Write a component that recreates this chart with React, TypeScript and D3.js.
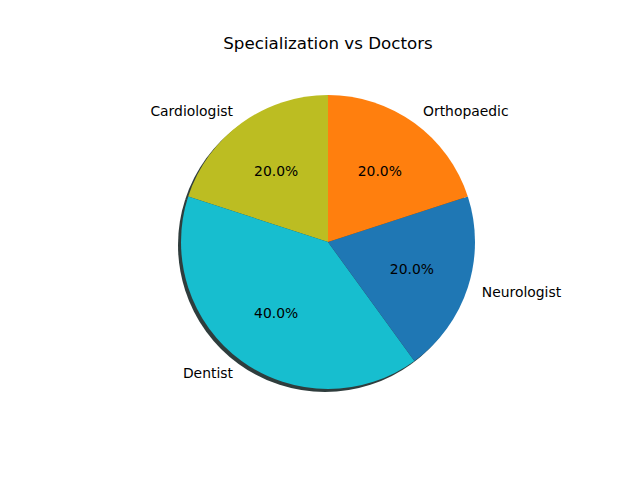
import React, { useEffect, useRef } from 'react';
import * as d3 from 'd3';

const specializations = ['Cardiologist', 'Dentist', 'Neurologist', 'Orthopaedic'];
const doctors = [1, 2, 1, 1];
const sliceColors = ['#bcbd22', '#17becf', '#1f77b4', '#ff7f0e'];

function App() {
  const svgRef = useRef<SVGSVGElement>(null);

  useEffect(() => {
    const width = 640;
    const height = 480;
    const cx = 328;
    const cy = 242;
    const radius = 147;

    const svg = d3.select(svgRef.current).attr('width', width).attr('height', height);
    svg.selectAll('*').remove();

    const data = specializations.map((name, i) => ({ name, value: doctors[i], color: sliceColors[i] }));
    const total = d3.sum(doctors);

    // matplotlib: startangle 90, counter-clockwise -> d3 angles run clockwise from 12 o'clock
    const pie = d3
      .pie<{ name: string; value: number; color: string }>()
      .value((d) => d.value)
      .sort(null)
      .startAngle(0)
      .endAngle(-2 * Math.PI);

    const arcs = pie(data);
    const arcGen = d3.arc<d3.PieArcDatum<any>>().innerRadius(0).outerRadius(radius);

    // shadow
    svg
      .append('g')
      .attr('transform', `translate(${cx - 3},${cy + 3})`)
      .selectAll('path')
      .data(arcs)
      .enter()
      .append('path')
      .attr('d', arcGen)
      .attr('fill', '#2f3d3d');

    const g = svg.append('g').attr('transform', `translate(${cx},${cy})`);

    g.selectAll('path.slice')
      .data(arcs)
      .enter()
      .append('path')
      .attr('class', 'slice')
      .attr('d', arcGen)
      .attr('fill', (d) => d.data.color);

    const mid = (d: d3.PieArcDatum<any>) => (d.startAngle + d.endAngle) / 2;

    // category labels at 1.1 r
    g.selectAll('text.label')
      .data(arcs)
      .enter()
      .append('text')
      .attr('class', 'label')
      .attr('x', (d) => Math.sin(mid(d)) * radius * 1.1)
      .attr('y', (d) => -Math.cos(mid(d)) * radius * 1.1)
      .attr('text-anchor', (d) => (Math.sin(mid(d)) < 0 ? 'end' : 'start'))
      .attr('dominant-baseline', 'central')
      .style('font-family', 'DejaVu Sans, sans-serif')
      .style('font-size', '13.9px')
      .attr('fill', '#000')
      .text((d) => d.data.name);

    // percentages at 0.6 r
    g.selectAll('text.pct')
      .data(arcs)
      .enter()
      .append('text')
      .attr('class', 'pct')
      .attr('x', (d) => Math.sin(mid(d)) * radius * 0.6)
      .attr('y', (d) => -Math.cos(mid(d)) * radius * 0.6)
      .attr('text-anchor', 'middle')
      .attr('dominant-baseline', 'central')
      .style('font-family', 'DejaVu Sans, sans-serif')
      .style('font-size', '13.9px')
      .attr('fill', '#000')
      .text((d) => `${((d.data.value / total) * 100).toFixed(1)}%`);

    svg
      .append('text')
      .attr('x', cx)
      .attr('y', 43)
      .attr('text-anchor', 'middle')
      .attr('dominant-baseline', 'central')
      .style('font-family', 'DejaVu Sans, sans-serif')
      .style('font-size', '16.7px')
      .attr('fill', '#000')
      .text('Specialization vs Doctors');
  }, []);

  return (
    <div style={{ position: 'absolute', left: 0, top: 0 }}>
      <svg ref={svgRef} style={{ display: 'block', background: '#fff' }} />
    </div>
  );
}

export default App;
